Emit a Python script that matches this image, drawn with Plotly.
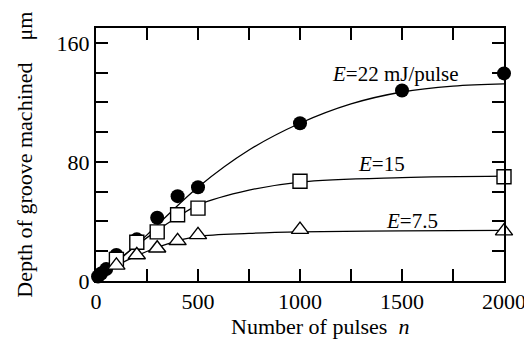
import plotly.graph_objects as go

# measured data points
n22 = [10, 25, 50, 100, 200, 300, 400, 500, 1000, 1500, 2000]
d22 = [3, 5, 8, 17.5, 28, 42.5, 57, 63, 106, 128, 139.5]
n15 = [100, 200, 300, 400, 500, 1000, 2000]
d15 = [14.5, 26, 33, 44.5, 49, 67, 70]
n75 = [100, 200, 300, 400, 500, 1000, 2000]
d75 = [10.5, 17.5, 22, 27, 31, 34.5, 33.5]

# fitted curves
fn22 = [0, 250, 500, 750, 1000, 1250, 1500, 1750, 2000]
fd22 = [0, 31, 63, 88, 106, 119, 127, 131, 132.5]
fn15 = [0, 100, 200, 300, 400, 500, 750, 1000, 1500, 2000]
fd15 = [0, 13, 24, 34, 43, 51, 61, 66.5, 69.5, 70.5]
fn75 = [0, 100, 200, 300, 400, 500, 750, 1000, 1500, 2000]
fd75 = [0, 10, 17, 22.5, 27, 30, 32, 33, 33.7, 34]

xticks = [0, 500, 1000, 1500, 2000]
yticks = [0, 80, 160]

FONT = "Liberation Serif"
fig = go.Figure()
line = dict(color="black", width=1.3)
for fx, fy in [(fn22, fd22), (fn15, fd15), (fn75, fd75)]:
    fig.add_trace(go.Scatter(x=fx, y=fy, mode="lines", line=dict(line, shape="spline"),
                             hoverinfo="skip", showlegend=False))

fig.add_trace(go.Scatter(x=n22, y=d22, mode="markers", showlegend=False, cliponaxis=False,
                         marker=dict(symbol="circle", size=14, color="black",
                                     line=dict(color="black", width=0))))
fig.add_trace(go.Scatter(x=n15, y=d15, mode="markers", showlegend=False, cliponaxis=False,
                         marker=dict(symbol="square", size=14, color="white",
                                     line=dict(color="black", width=1.4))))
fig.add_trace(go.Scatter(x=n75, y=d75, mode="markers", showlegend=False, cliponaxis=False,
                         marker=dict(symbol="triangle-up", size=15, color="white",
                                     line=dict(color="black", width=1.4))))

labels = [("<i>E</i>=22 mJ/pulse", 1470, 139), ("<i>E</i>=15", 1400, 78.5),
          ("<i>E</i>=7.5", 1551, 40.5)]
for t, x, y in labels:
    fig.add_annotation(text=t, x=x, y=y, showarrow=False,
                       font=dict(family=FONT, size=21, color="black"))

fig.add_annotation(text="Number of pulses\u00a0\u00a0<i>n</i>", xref="paper", yref="paper",
                   x=0.549, y=-0.178, xanchor="center", yanchor="middle", showarrow=False,
                   font=dict(family=FONT, size=22, color="black"))
fig.add_annotation(text="Depth of groove machined\u00a0\u00a0\u00a0\u00a0μm", xref="paper",
                   yref="paper", x=-0.176, y=0.5, xanchor="center", yanchor="middle",
                   textangle=-90, showarrow=False,
                   font=dict(family=FONT, size=22, color="black"))

axcommon = dict(showline=True, linecolor="black", linewidth=2, mirror="ticks",
                ticks="inside", ticklen=12, tickwidth=1.5, tickcolor="black",
                showgrid=False, zeroline=False, automargin=False,
                tickfont=dict(family=FONT, size=22, color="black"))
fig.update_xaxes(axcommon, range=[0, 2000], tickvals=xticks,
                 ticktext=[str(v) for v in xticks], ticklabelstandoff=0,
                 minor=dict(dtick=250, tick0=0, ticks="inside", ticklen=12,
                            tickwidth=1.5, tickcolor="black"))
fig.update_yaxes(axcommon, range=[0, 170], tickvals=yticks,
                 ticktext=[str(v) for v in yticks], ticklabelstandoff=0,
                 minor=dict(dtick=20, tick0=0, ticks="inside", ticklen=12,
                            tickwidth=1.5, tickcolor="black"))
# page body has an 8px margin, so the figure is 8px smaller than the window
fig.update_layout(width=524, height=337, plot_bgcolor="white", paper_bgcolor="white",
                  margin=dict(l=88, r=28, t=20, b=64), showlegend=False)
fig.write_html("out.html")
